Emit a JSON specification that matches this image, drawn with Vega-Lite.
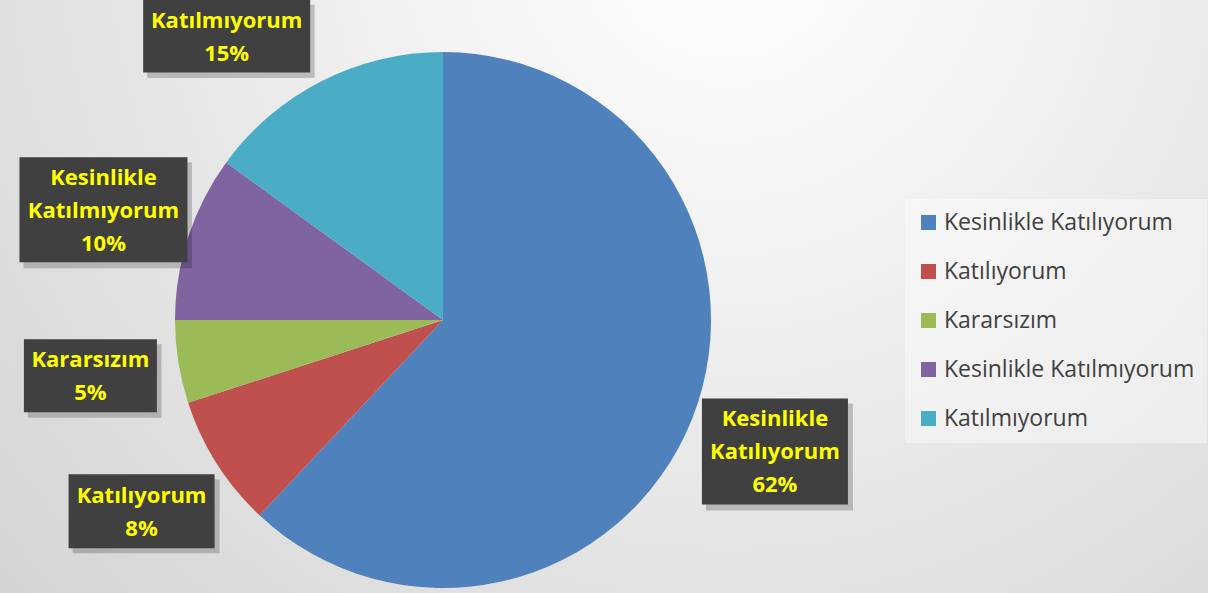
{
  "$schema": "https://vega.github.io/schema/vega-lite/v6.json",
  "width": 1208,
  "height": 593,
  "autosize": "none",
  "padding": 0,
  "background": "#e2e2e2",
  "data": {
    "values": [
      {"cat": "Kesinlikle Katılıyorum", "value": 62},
      {"cat": "Katılıyorum", "value": 8},
      {"cat": "Kararsızım", "value": 5},
      {"cat": "Kesinlikle Katılmıyorum", "value": 10},
      {"cat": "Katılmıyorum", "value": 15}
    ]
  },
  "transform": [
    {"joinaggregate": [{"op": "sum", "field": "value", "as": "total"}]},
    {"stack": "value", "groupby": [], "as": ["v0", "v1"]},
    {"calculate": "PI * (datum.v0 + datum.v1) / datum.total", "as": "a"},
    {"calculate": "357 * sin(datum.a)", "as": "px"},
    {"calculate": "357 * cos(datum.a)", "as": "py"},
    {"calculate": "min(datum.py, 284)", "as": "ly"},
    {"calculate": "datum.py > 284 ? (datum.px < 0 ? -1 : 1) * sqrt(357 * 357 - 284 * 284) : datum.px", "as": "lx"},
    {"calculate": "replace(datum.cat, ' ', '\\n') + '\\n' + datum.value + '%'", "as": "label"},
    {"calculate": "datum.ly + (length(split(datum.label, '\\n')) - 1) * 33 / 2 - 1", "as": "ty"}
  ],
  "layer": [
    {
      "mark": {"type": "arc", "outerRadius": 268},
      "encoding": {
        "x": {"datum": 0, "type": "quantitative", "scale": {"domain": [-443, 765], "nice": false, "zero": false}, "axis": null},
        "y": {"datum": 0, "type": "quantitative", "scale": {"domain": [-273, 320], "nice": false, "zero": false}, "axis": null},
        "theta": {"field": "v0", "type": "quantitative", "scale": {"domain": [0, 100]}},
        "theta2": {"field": "v1"},
        "color": {
          "field": "cat",
          "type": "nominal",
          "scale": {
            "domain": ["Kesinlikle Katılıyorum", "Katılıyorum", "Kararsızım", "Kesinlikle Katılmıyorum", "Katılmıyorum"],
            "range": ["#4F81BD", "#C0504D", "#9BBB59", "#8064A2", "#4BACC6"]
          },
          "legend": {"title": null, "symbolSize": 225, "symbolType": "square"}
        }
      }
    },
    {
      "mark": {"type": "point", "filled": true, "opacity": 0.2, "color": "#000000", "strokeWidth": 0, "size": 40000},
      "encoding": {
        "x": {"field": "lx", "type": "quantitative"},
        "y": {"field": "ly", "type": "quantitative"},
        "shape": {
          "field": "cat",
          "type": "nominal",
          "scale": {
            "domain": ["Kesinlikle Katılıyorum", "Katılıyorum", "Kararsızım", "Kesinlikle Katılmıyorum", "Katılmıyorum"],
            "range": [
              "M-0.69,-0.48H0.78V0.59H-0.69Z",
              "M-0.69,-0.32H0.78V0.42H-0.69Z",
              "M-0.625,-0.315H0.71V0.42H-0.625Z",
              "M-0.8,-0.475H0.885V0.585H-0.8Z",
              "M-0.795,-0.315H0.88V0.42H-0.795Z"
            ]
          },
          "legend": null
        }
      }
    },
    {
      "mark": {"type": "point", "filled": true, "opacity": 1, "color": "#404040", "strokeWidth": 0, "size": 40000},
      "encoding": {
        "x": {"field": "lx", "type": "quantitative"},
        "y": {"field": "ly", "type": "quantitative"},
        "shape": {
          "field": "cat",
          "type": "nominal",
          "scale": {
            "domain": ["Kesinlikle Katılıyorum", "Katılıyorum", "Kararsızım", "Kesinlikle Katılmıyorum", "Katılmıyorum"],
            "range": [
              "M-0.73,-0.53H0.73V0.53H-0.73Z",
              "M-0.73,-0.37H0.73V0.37H-0.73Z",
              "M-0.665,-0.365H0.665V0.365H-0.665Z",
              "M-0.84,-0.525H0.84V0.525H-0.84Z",
              "M-0.835,-0.365H0.835V0.365H-0.835Z"
            ]
          },
          "legend": null
        }
      }
    },
    {
      "mark": {"type": "text", "font": "Open Sans", "fontWeight": "bold", "fontSize": 22, "lineHeight": 33, "lineBreak": "\n", "align": "center", "baseline": "middle", "color": "#FFFF00"},
      "encoding": {
        "x": {"field": "lx", "type": "quantitative"},
        "y": {"field": "ty", "type": "quantitative"},
        "text": {"field": "label"}
      }
    }
  ],
  "resolve": {"scale": {"shape": "independent"}},
  "config": {
    "view": {
      "stroke": null,
      "fill": {
        "gradient": "radial",
        "x1": 0.6, "y1": 0.2, "r1": 0,
        "x2": 0.6, "y2": 0.2, "r2": 0.9,
        "stops": [
          {"offset": 0, "color": "#ffffff"},
          {"offset": 0.3, "color": "#f2f2f2"},
          {"offset": 1, "color": "#cfcfcf"}
        ]
      }
    },
    "legend": {
      "orient": "none",
      "legendX": 905,
      "legendY": 199,
      "padding": 12,
      "fillColor": "rgba(255,255,255,0.4)",
      "symbolType": "square",
      "symbolSize": 225,
      "symbolStrokeWidth": 0,
      "symbolOpacity": 1,
      "labelFont": "Open Sans",
      "labelFontSize": 23,
      "labelColor": "#404040",
      "labelOffset": 4,
      "rowPadding": 25,
      "labelLimit": 400
    }
  }
}
